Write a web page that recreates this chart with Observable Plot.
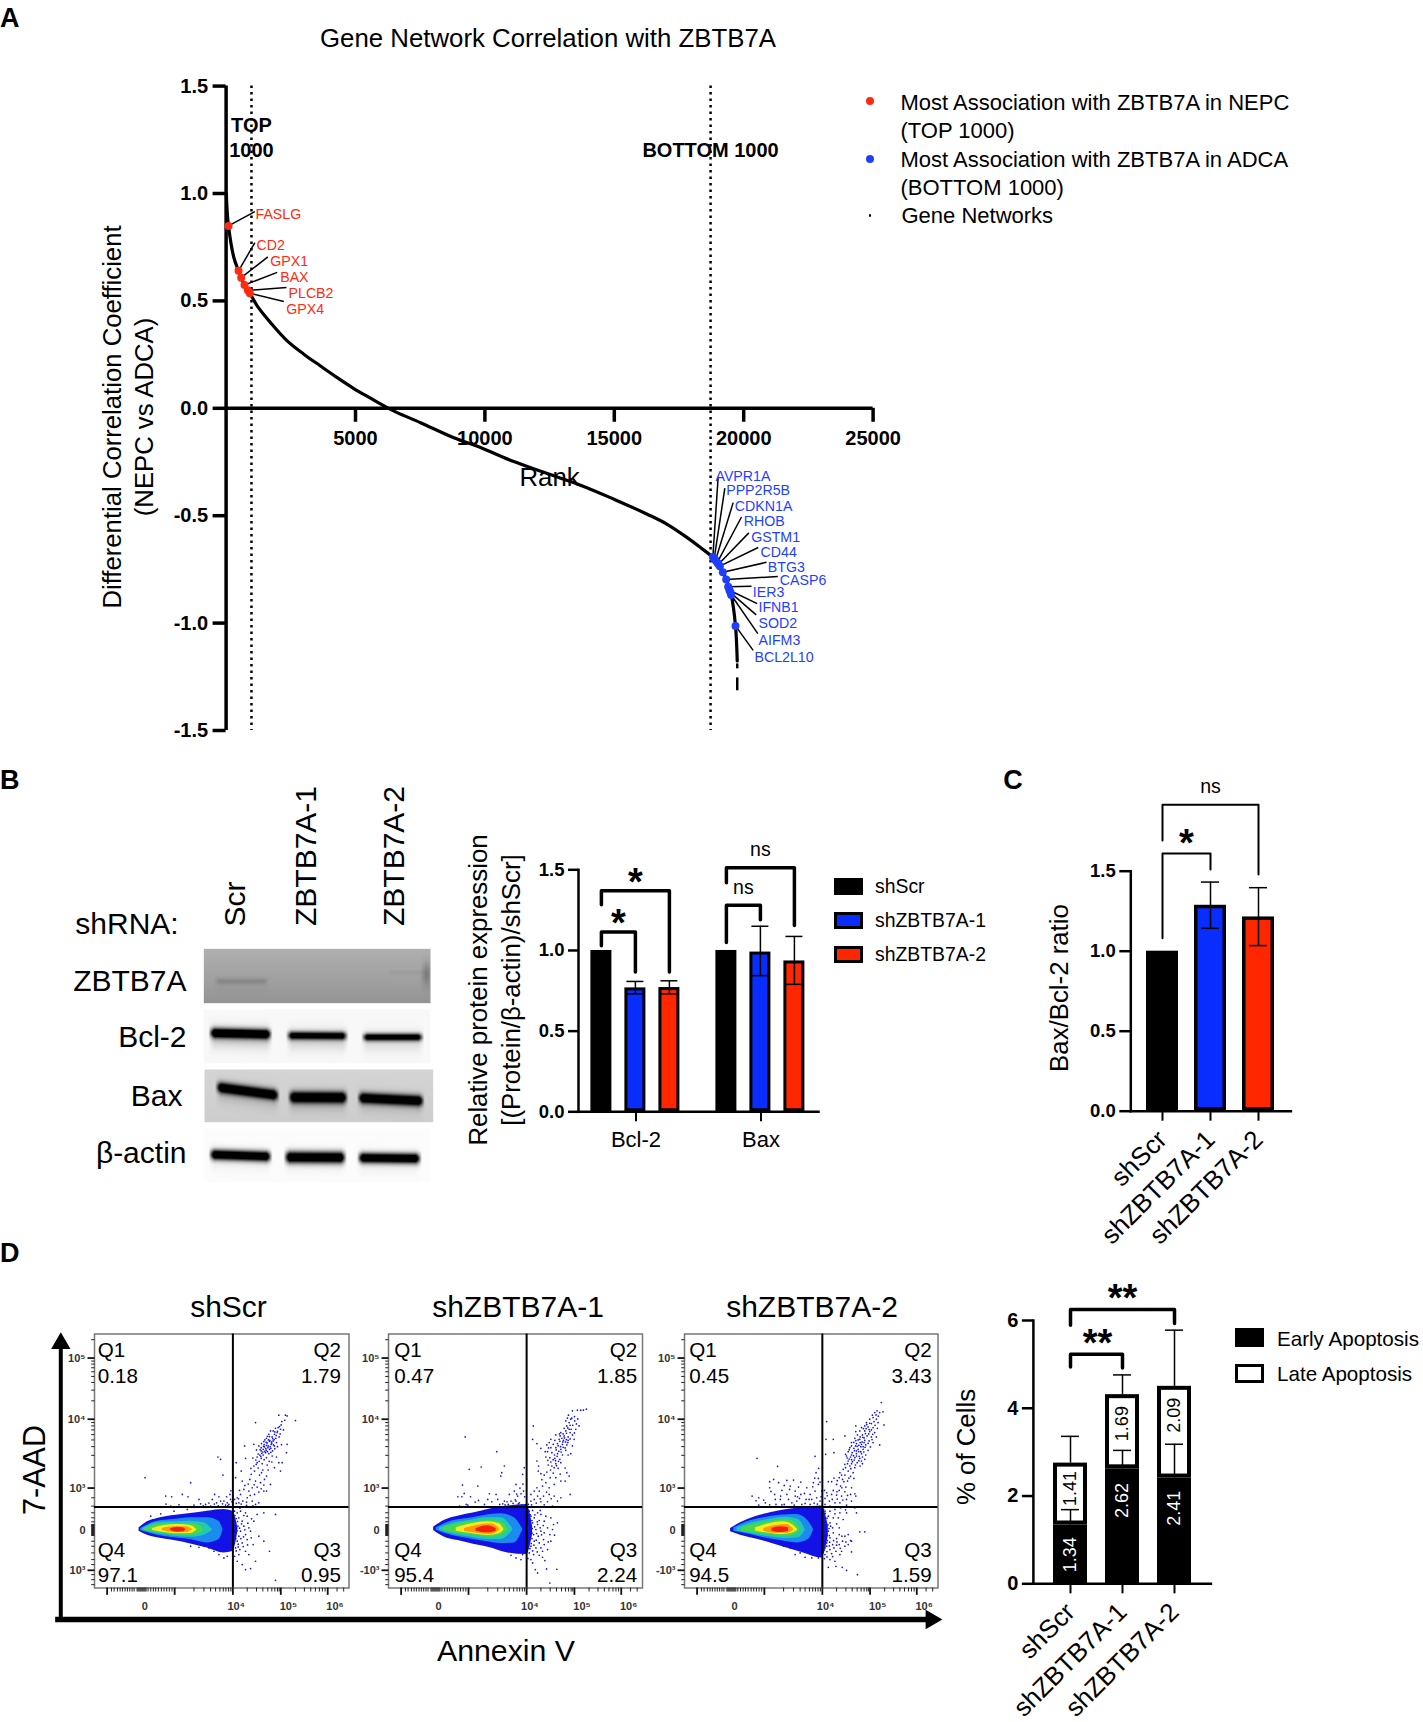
<!DOCTYPE html>
<html>
<head>
<meta charset="utf-8">
<script src="https://cdn.jsdelivr.net/npm/d3@7"></script>
<script src="https://cdn.jsdelivr.net/npm/@observablehq/plot@0.6"></script>
<style>
  html, body { margin: 0; padding: 0; background: white; }
  #page { position: relative; width: 1423px; height: 1722px; overflow: hidden; font-family: "Liberation Sans", sans-serif; color: black; }
  .note { position: absolute; white-space: nowrap; line-height: 1; }
  .swatch { position: absolute; box-sizing: border-box; }
</style>
</head>
<body>
<div id="page"></div>
<script>
// ---- panel A: rank curve ----
const curveRank = [10, 30, 93, 299, 480, 583, 711, 840, 917, 1201, 1716, 2360, 3004, 3648, 4292, 4936, 5580, 6224, 6610, 7512, 8800, 9830, 11118, 12406, 13694, 14982, 16270, 17043, 17816, 18331, 18717, 19077, 19323, 19517, 19683, 19750];
const curveValue = [1.0, 0.94, 0.849, 0.702, 0.64, 0.608, 0.574, 0.549, 0.536, 0.477, 0.399, 0.314, 0.252, 0.197, 0.143, 0.092, 0.047, 0.003, -0.02, -0.067, -0.137, -0.183, -0.248, -0.304, -0.358, -0.423, -0.493, -0.54, -0.602, -0.648, -0.685, -0.735, -0.797, -0.869, -1.013, -1.176];
const tailDashes = [[-1.19, -1.213], [-1.255, -1.315]];
const tailRank = 19750;
const rankTicks = [5000, 10000, 15000, 20000, 25000];
const corrTicks = [-1.5, -1, -0.5, 0, 0.5, 1, 1.5];
const cutoffs = [980, 18720];

const redGenes = ["FASLG", "CD2", "GPX1", "BAX", "PLCB2", "GPX4"];
const redRank = [93, 480, 583, 711, 840, 917];
const redValue = [0.849, 0.64, 0.608, 0.574, 0.549, 0.536];
const redLeadRank = [1111, 1111, 1613, 1974, 2334, 2231];
const redLeadValue = [0.916, 0.771, 0.705, 0.633, 0.562, 0.497];
const redTextRank = [1136, 1175, 1703, 2090, 2412, 2321];
const redTextValue = [0.903, 0.756, 0.683, 0.608, 0.535, 0.459];

const blueGenes = ["AVPR1A", "PPP2R5B", "CDKN1A", "RHOB", "GSTM1", "CD44", "BTG3", "CASP6", "IER3", "IFNB1", "SOD2", "AIFM3", "BCL2L10"];
const blueRank = [18808, 18860, 18912, 18975, 19026, 19077, 19193, 19323, 19400, 19450, 19490, 19517, 19683];
const blueValue = [-0.692, -0.7, -0.707, -0.718, -0.726, -0.735, -0.763, -0.797, -0.831, -0.847, -0.858, -0.869, -1.013];
const blueLeadRank = [19013, 19271, 19593, 19915, 20198, 20559, 20881, 21319, 20301, 20520, 20482, 20546, 20366];
const blueLeadValue = [-0.319, -0.372, -0.439, -0.506, -0.58, -0.648, -0.717, -0.783, -0.828, -0.909, -0.962, -1.049, -1.127];
const blueTextRank = [18910, 19323, 19657, 20005, 20289, 20649, 20933, 21396, 20353, 20572, 20572, 20572, 20417];
const blueTextValue = [-0.315, -0.381, -0.456, -0.527, -0.599, -0.67, -0.741, -0.8, -0.859, -0.928, -1.002, -1.083, -1.158];

// ---- panels B and C: western blot quantification ----
const shGroups = ["shScr", "shZBTB7A-1", "shZBTB7A-2"];
const shColors = ["black", "#0a2dff", "#ff2600"];
const proteins = ["Bcl-2", "Bax"];
const bcl2Mean = [1, 0.768, 0.77];
const bcl2Low = [null, 0.731, 0.731];
const bcl2High = [null, 0.808, 0.812];
const baxMean = [1, 0.99, 0.935];
const baxLow = [null, 0.844, 0.79];
const baxHigh = [null, 1.15, 1.087];
const ratioMean = [1, 1.287, 1.214];
const ratioLow = [null, 1.143, 1.035];
const ratioHigh = [null, 1.432, 1.397];
const exprTicks = [0, 0.5, 1, 1.5];

// from group, to group, bracket top, left foot, right foot
const bcl2Brackets = [["shScr", "shZBTB7A-1", 1.114, 1.03, 0.866], ["shScr", "shZBTB7A-2", 1.37, 1.283, 0.866]];
const baxBrackets = [["shScr", "shZBTB7A-1", 1.28, 1.05, 1.19], ["shScr", "shZBTB7A-2", 1.513, 1.42, 1.154]];
const ratioBrackets = [["shScr", "shZBTB7A-1", 1.611, 1.081, 1.511], ["shScr", "shZBTB7A-2", 1.915, 1.692, 1.48]];

// ---- panel D: apoptosis ----
const earlyPct = [1.34, 2.62, 2.41];
const latePct = [1.41, 1.69, 2.09];
const earlyCap = [1.69, 3.04, 3.18];
const lateCap = [3.36, 4.76, 5.78];
const earlyLabelAt = [0.66, 1.9, 1.72];
const lateLabelAt = [2.17, 3.65, 3.84];
const pctTicks = [0, 2, 4, 6];
const apoBrackets = [["shScr", "shZBTB7A-1", 5.23, 4.94, 4.92], ["shScr", "shZBTB7A-2", 6.25, 5.89, 5.93]];

// ---- flow plots, all in channel units of the scan ----
const xMajor = [49, 252, 427, 571, 712];
const xMinor = [62, 70, 80, 88, 95, 103, 110, 117, 124, 130, 139, 142, 145, 148, 151, 154, 157, 160, 163, 166, 172, 180, 188, 195, 203, 212, 220, 228, 236, 244, 310, 340, 360, 375, 388, 398, 406, 414, 421, 470, 498, 517, 532, 544, 553, 561, 566, 615, 642, 661, 675, 687, 696, 704, 740, 760];
const yMajor = [82, 265, 471, 717];
const yMinor = [27, 91, 100, 111, 123, 137, 155, 178, 210, 275, 285, 297, 311, 327, 347, 373, 409, 500, 525, 545, 560, 572, 580, 583, 586, 589, 592, 595, 598, 601, 604, 607, 610, 613, 630, 645, 665, 685, 700, 730, 745, 760];
const xTickText = [[162, "0"], [437, "10⁴"], [594, "10⁵"], [734, "10⁶"]];
const yTickText = [[82, "10⁵"], [265, "10⁴"], [471, "10³"], [597, "0"]];
const densityColors = ["#1212e6", "#1a8cf0", "#22c8b0", "#48d848", "#f4ec20", "#ff9a10", "#f0220c"];

// level, channel x, upper edge, lower edge
const density1 = [
  [0,145,590,600],[0,170,572,612],[0,200,562,620],[0,250,553,628],[0,300,547,638],[0,350,540,650],[0,400,535,665],[0,427,540,660],[0,442,590,600],
  [1,150,592,598],[1,200,570,612],[1,250,565,620],[1,300,560,625],[1,350,560,635],[1,385,570,625],[1,397,595,597],
  [2,155,592,598],[2,200,575,608],[2,250,572,615],[2,300,570,618],[2,340,575,612],[2,365,594,598],
  [3,160,593,597],[3,200,580,603],[3,250,577,610],[3,300,577,612],[3,330,585,605],[3,338,594,597],
  [4,185,592,598],[4,220,583,604],[4,260,580,608],[4,300,583,607],[4,318,594,597],
  [5,215,592,598],[5,250,587,604],[5,285,587,604],[5,305,594,597],
  [6,240,593,598],[6,260,588,603],[6,278,590,602],[6,285,595,597]
];
const density2 = [
  [0,147,588,598],[0,180,567,618],[0,220,555,628],[0,270,545,640],[0,320,533,650],[0,370,525,665],[0,427,520,670],[0,445,585,610],
  [1,155,590,597],[1,200,570,612],[1,250,562,622],[1,300,553,630],[1,350,548,637],[1,390,560,635],[1,415,593,597],
  [2,165,589,598],[2,210,575,610],[2,260,567,618],[2,310,560,625],[2,350,560,625],[2,385,592,598],
  [3,175,590,597],[3,220,578,606],[3,270,572,612],[3,320,568,618],[3,355,575,610],[3,370,593,597],
  [4,215,590,600],[4,260,578,607],[4,310,572,613],[4,345,578,608],[4,358,593,597],
  [5,240,592,600],[5,280,582,607],[5,320,578,610],[5,345,592,597],
  [6,275,592,600],[6,310,584,605],[6,335,592,600]
];
const density3 = [
  [0,150,592,602],[0,180,575,612],[0,220,558,622],[0,270,545,635],[0,320,535,650],[0,370,530,665],[0,425,525,680],[0,445,585,615],
  [1,160,590,600],[1,200,572,608],[1,250,560,620],[1,300,552,628],[1,350,550,635],[1,385,570,625],[1,400,594,598],
  [2,170,590,600],[2,215,575,608],[2,265,565,617],[2,315,558,622],[2,355,565,620],[2,375,594,598],
  [3,185,590,600],[3,230,578,606],[3,275,570,612],[3,320,565,615],[3,345,575,610],[3,360,594,598],
  [4,225,590,600],[4,265,578,606],[4,310,572,610],[4,340,583,605],[4,352,594,598],
  [5,250,592,600],[5,285,583,606],[5,320,580,606],[5,340,594,598],
  [6,275,592,600],[6,300,587,604],[6,325,590,600]
];

const events1 = [[585,253],[565,253],[615,269],[495,275],[590,255],[572,282],[563,290],[570,295],[555,292],[548,300],[560,305],[540,300],[552,310],[535,310],[545,318],[556,322],[566,318],[528,322],[538,328],[548,330],[558,335],[520,332],[530,336],[542,340],[552,345],[512,350],[522,348],[532,350],[518,355],[527,358],[537,355],[546,360],[512,360],[505,345],[490,340],[525,365],[535,368],[518,372],[508,372],[500,378],[512,382],[528,380],[545,375],[558,378],[575,395],[590,340],[588,365],[462,345],[465,382],[500,395],[497,400],[515,398],[530,402],[552,410],[565,395],[570,420],[490,405],[492,420],[513,425],[528,435],[522,445],[507,432],[482,430],[478,445],[495,450],[510,455],[520,462],[500,468],[485,470],[475,480],[492,490],[505,483],[520,480],[460,475],[450,490],[440,500],[470,500],[485,510],[495,520],[505,515],[457,510],[445,515],[432,505],[437,395],[452,420],[435,440],[455,450],[540,460],[528,480],
  [382,378],[390,385],[397,432],[163,440],[300,455],[275,490],[225,495],[243,497],[292,497],[325,505],[345,520],[372,490],[385,497],[400,510],[410,515],[418,490],[420,505],[415,520],[405,522],[390,510],[378,515],[360,525],[240,525],[310,522],
  [432,540],[440,545],[450,540],[465,545],[470,555],[445,560],[455,570],[435,575],[442,585],[460,585],[475,590],[450,600],[435,605],[445,615],[465,610],[480,600],[440,630],[455,635],[470,625],[488,640],[435,650],[448,655],[465,660],[475,670],[445,670],[432,675],[440,690],[455,700],[465,715],[480,712],[495,690],[505,615],[520,630],[537,660],[555,747],[500,550],[520,545],[555,550],[490,570],[482,620],
  [340,645],[355,650],[370,660],[385,670],[400,680],[410,675],[395,660],[325,648],[300,645],[210,548],[180,555],[250,540],[290,535]];
const extra1 = [[537,331],[544,337],[528,343],[533,345],[539,347],[521,341],[526,353],[541,352],[549,342],[517,363],[523,361],[531,362],[514,367],[543,333],[551,326],[557,314],[561,301],[567,287],[553,303],[547,323],[534,327],[527,334],[519,346],[509,356],[503,369],[496,387],[506,391],[511,376],[521,386],[536,391],[541,364],[553,353],[561,347],[573,341],[569,309],[579,297],[574,272],[583,268],[537,317],[531,316],[523,327],[513,338],[498,357],[487,381],[481,412],[503,411],[517,417],[533,417],[544,393],[473,459],[491,461],[512,473],[468,513],[479,493],[463,463],[447,478],[444,503],[437,517],[452,519],[468,523],[487,524],
  [401,527],[412,524],[396,518],[383,524],[371,519],[355,516],[338,524],[408,497],[421,479],[424,512],[365,505],[330,518],[265,521],[226,519],
  [433,553],[437,562],[441,571],[434,592],[439,599],[447,591],[453,578],[431,617],[436,623],[443,639],[451,622],[459,617],[431,635],[437,659],[443,647],[458,646],[471,641],[463,596],[472,576],[483,563],[460,553],[448,531]];
const events2 = [[607,235],[598,238],[590,238],[580,238],[565,240],[550,262],[560,265],[572,270],[545,270],[555,275],[585,285],[566,283],[548,285],[540,292],[555,295],[575,295],[530,305],[545,300],[558,305],[515,312],[528,315],[540,315],[552,318],[565,312],[500,325],[512,328],[525,325],[538,328],[552,328],[570,325],[495,335],[507,340],[520,338],[535,340],[548,342],[488,342],[565,345],[500,350],[515,350],[530,355],[545,358],[560,368],[490,362],[503,365],[520,368],[535,372],[552,372],[485,378],[497,380],[512,382],[527,385],[500,393],[515,398],[530,395],[492,402],[510,410],[522,412],[548,425],[555,435],[470,428],[462,420],[480,432],[498,440],[515,440],[530,450],[543,450],[485,455],[495,470],[510,460],[475,465],[465,480],[450,480],[440,490],[460,495],[478,495],[495,490],[510,495],[520,510],[505,525],[490,512],[470,512],[450,505],[440,510],[432,520],[447,285],[445,325],[458,338],[470,352],[458,390],[463,405],[558,490],[530,500],
  [242,318],[337,362],[254,415],[290,408],[352,425],[349,435],[360,405],[420,410],[415,430],[395,460],[234,462],[280,465],[220,497],[232,497],[315,488],[335,490],[245,520],[282,508],[310,505],[340,505],[360,510],[375,490],[390,480],[400,495],[410,488],[418,480],[380,510],[395,510],[405,515],[372,520],[355,518],[225,525],[250,522],
  [435,540],[445,538],[460,545],[470,550],[485,555],[500,560],[520,575],[508,580],[440,555],[450,560],[465,568],[480,570],[435,570],[445,575],[460,580],[490,590],[505,595],[480,605],[440,590],[455,595],[470,600],[435,605],[448,610],[462,615],[478,625],[492,632],[435,625],[450,630],[465,635],[480,640],[500,630],[440,645],[455,650],[470,650],[490,655],[435,665],[448,670],[465,672],[482,688],[440,685],[453,715],[460,725],[487,713],[518,714],[497,755],[475,678],
  [335,650],[350,655],[365,660],[380,672],[395,680],[410,685],[415,670],[325,645]];
const extra2 = [[541,321],[547,326],[536,333],[544,333],[533,322],[527,331],[551,335],[558,324],[522,344],[529,347],[537,349],[543,351],[516,357],[524,361],[531,363],[511,372],[519,376],[507,386],[514,389],[523,391],[503,405],[517,404],[493,351],[483,362],[491,388],[558,283],[551,291],[561,295],[547,307],[537,309],[526,309],[571,306],[577,279],[553,253],[563,262],[571,257],[581,264],[499,417],[507,426],[528,429],[488,423],[543,411],[473,446],[458,470],[487,483],[501,503],[468,503],[456,516],[442,521],[480,521],
  [393,506],[402,518],[412,522],[386,517],[368,512],[362,521],[346,520],[322,512],[300,520],[272,513],[258,497],[239,487],[416,459],[407,471],[421,497],[397,489],
  [431,537],[433,547],[438,551],[431,557],[437,563],[443,568],[432,578],[438,583],[444,592],[431,596],[437,601],[443,606],[451,587],[431,613],[436,618],[443,622],[457,607],[433,633],[441,637],[449,642],[456,627],[431,645],[437,652],[445,659],[459,662],[472,611],[468,590],[477,583],[459,572],[452,551],[468,538],[431,682],[445,695],[475,660],[497,610],[511,612]];
const events3 = [[605,215],[592,240],[600,245],[585,245],[610,243],[580,260],[570,265],[590,265],[560,275],[575,278],[595,275],[555,285],[565,288],[580,290],[545,290],[613,282],[540,300],[555,300],[570,302],[585,305],[528,302],[533,312],[548,312],[562,315],[575,318],[590,318],[525,322],[540,325],[555,328],[568,330],[580,335],[515,335],[530,338],[545,340],[558,342],[572,348],[600,342],[510,350],[522,352],[535,355],[550,355],[565,358],[505,362],[517,365],[530,368],[545,368],[558,372],[500,375],[512,378],[525,380],[540,382],[555,385],[505,390],[518,392],[532,395],[548,398],[495,400],[510,405],[525,410],[490,415],[505,420],[520,425],[480,425],[495,432],[512,436],[488,445],[503,450],[522,442],[440,272],[438,325],[460,325],[495,315],[528,285],[437,370],[462,365],
  [470,460],[482,465],[498,468],[515,470],[460,478],[478,478],[495,482],[512,490],[525,488],[445,452],[455,452],[440,485],[455,490],[470,492],[485,495],[500,505],[515,510],[435,502],[448,510],[465,515],[480,515],[435,520],[450,525],[500,522],[525,530],[528,495],
  [230,382],[292,406],[405,376],[416,412],[408,425],[280,445],[268,452],[268,470],[295,455],[320,448],[340,447],[330,465],[355,468],[345,480],[400,455],[415,460],[425,480],[215,495],[235,500],[255,515],[285,505],[300,505],[320,490],[345,495],[362,490],[380,470],[390,490],[405,480],[378,505],[395,505],[410,500],[420,510],[350,510],[335,515],[312,520],[235,522],[365,520],[390,520],
  [435,540],[450,540],[465,535],[480,545],[500,545],[530,545],[445,555],[460,560],[475,560],[490,565],[435,565],[450,575],[470,578],[440,585],[458,590],[478,590],[540,602],[555,602],[505,610],[445,600],[460,605],[478,610],[495,615],[515,630],[435,615],[450,620],[470,622],[488,630],[505,640],[440,635],[458,640],[478,640],[495,645],[435,650],[450,655],[468,660],[485,660],[515,662],[435,670],[450,685],[465,690],[480,670],[445,708],[468,705],[487,708],[533,730],[500,717],
  [345,670],[360,665],[375,678],[395,680],[415,680],[330,650],[310,645]];
const extra3 = [[547,333],[553,335],[541,335],[537,343],[543,347],[550,347],[556,349],[532,346],[527,345],[524,359],[530,360],[537,362],[543,362],[552,363],[515,372],[521,374],[530,375],[538,376],[548,378],[508,384],[515,386],[523,387],[537,389],[545,390],[503,398],[515,398],[527,402],[541,405],[497,410],[513,413],[553,321],[549,319],[557,308],[567,309],[579,310],[575,297],[568,296],[559,293],[551,293],[561,281],[570,277],[583,272],[578,253],[589,252],[596,256],[586,283],[593,292],[565,337],[577,326],[541,318],[535,327],[522,334],[528,329],[515,345],[508,356],[502,381],[497,370],[485,432],[478,440],[492,452],[507,441],[472,449],[462,441],[486,470],[471,482],[503,493],[489,507],[472,504],[457,505],[442,494],[433,478],
  [283,490],[272,481],[305,478],[312,463],[362,453],[373,487],[398,467],[387,505],[402,516],[412,519],[423,497],[375,517],[358,502],[342,522],[325,505],[305,521],[287,520],[268,521],[250,507],[227,509],[420,453],[404,441],[415,442],[328,475],[301,495],[352,497],
  [431,535],[436,547],[431,553],[441,561],[431,572],[437,577],[444,581],[432,592],[438,597],[447,592],[452,585],[433,609],[441,611],[448,613],[434,625],[442,628],[449,633],[461,628],[433,641],[440,645],[448,644],[432,657],[441,661],[455,667],[462,650],[470,642],[481,651],[471,632],[498,632],[512,628],[486,615],[465,548],[482,530],[497,536],[433,682],[441,677],[458,676]];

const quadrants1 = ["0.18", "1.79", "97.1", "0.95"];
const quadrants2 = ["0.47", "1.85", "95.4", "2.24"];
const quadrants3 = ["0.45", "3.43", "94.5", "1.59"];

// ---- blots: gray level of the membrane and its bands, in scan units ----
const blotRows = [
  { x1: 40, x2: 720, y1: 25, y2: 188, top: 176, bottom: 148,
    bands: [[75, 230, 122, 122, 9, 22, 3], [695, 722, 100, 100, 34, 40, 0], [595, 700, 95, 95, 7, 7, 0]] },
  { x1: 40, x2: 718, y1: 208, y2: 368, top: 248, bottom: 248,
    bands: [[60, 240, 277, 281, 14, 330, 55], [292, 468, 285, 286, 12, 270, 40], [518, 695, 290, 290, 11, 280, 28]] },
  { x1: 42, x2: 728, y1: 387, y2: 545, top: 212, bottom: 205,
    bands: [[80, 262, 440, 464, 15, 300, 30], [297, 468, 470, 471, 16, 300, 34], [505, 697, 472, 481, 15, 300, 26]] },
  { x1: 40, x2: 718, y1: 565, y2: 725, top: 252, bottom: 252,
    bands: [[60, 240, 642, 648, 15, 340, 14], [285, 463, 650, 651, 17, 340, 14], [505, 688, 652, 654, 15, 340, 14]] }
];

const page = document.getElementById("page");
const base = { style: { fontFamily: "Liberation Sans", color: "black", background: "transparent", overflow: "visible", maxWidth: "none" } };

function place(chart, left, top) {
  chart.style.position = "absolute";
  chart.style.left = left + "px";
  chart.style.top = top + "px";
  page.append(chart);
}

function note(text, x, y, size, opts = {}) {
  const el = document.createElement("div");
  el.className = "note";
  el.textContent = text;
  el.style.left = x + "px";
  el.style.top = y + "px";
  el.style.fontSize = size + "px";
  if (opts.bold) el.style.fontWeight = "bold";
  const shift = opts.anchor === "end" ? "-100%" : opts.anchor === "start" ? "0" : "-50%";
  el.style.transform = `translate(${shift},-50%)` + (opts.rotate ? ` rotate(${opts.rotate}deg)` : "");
  page.append(el);
}

function swatch(x, y, w, h, fill, border, round) {
  const el = document.createElement("div");
  el.className = "swatch";
  el.style.left = x + "px";
  el.style.top = y + "px";
  el.style.width = w + "px";
  el.style.height = h + "px";
  el.style.background = fill;
  if (border) el.style.border = border;
  if (round) el.style.borderRadius = "50%";
  page.append(el);
}

function bracketRows(list, extra = {}) {
  return list.flatMap(([a, b, top, footA, footB], i) => [
    { id: i, x: a, y: footA, ...extra },
    { id: i, x: a, y: top, ...extra },
    { id: i, x: b, y: top, ...extra },
    { id: i, x: b, y: footB, ...extra }
  ]);
}

// ---- A ----
const curve = curveRank.map((r, i) => ({ r, v: curveValue[i] }));
const red = redGenes.map((g, i) => ({ g, r: redRank[i], v: redValue[i], lr: redLeadRank[i], lv: redLeadValue[i], tr: redTextRank[i], tv: redTextValue[i] }));
const blue = blueGenes.map((g, i) => ({ g, r: blueRank[i], v: blueValue[i], lr: blueLeadRank[i], lv: blueLeadValue[i], tr: blueTextRank[i], tv: blueTextValue[i] }));
const genes = (rows, color) => [
  Plot.link(rows, { x1: "r", y1: "v", x2: "lr", y2: "lv", stroke: "black", strokeWidth: 1.5 }),
  Plot.dot(rows, { x: "r", y: "v", r: 4, fill: color }),
  Plot.text(rows, { x: "tr", y: "tv", text: "g", textAnchor: "start", fill: color, fontSize: 14.2 })
];

place(Plot.plot({
  ...base,
  width: 900, height: 760,
  marginLeft: 225.6, marginRight: 27.4, marginTop: 85.6, marginBottom: 30,
  x: { domain: [0, 25000], axis: null },
  y: { domain: [-1.5, 1.5], axis: null },
  marks: [
    Plot.ruleX(cutoffs, { stroke: "black", strokeWidth: 2.5, strokeDasharray: "2.5,4" }),
    Plot.ruleX([0], { stroke: "black", strokeWidth: 3.5 }),
    Plot.ruleY([0], { stroke: "black", strokeWidth: 3.5 }),
    Plot.ruleX(rankTicks, { x: d => d, y1: 0, y2: -0.065, stroke: "black", strokeWidth: 3.5 }),
    Plot.text(rankTicks, { x: d => d, y: 0, dy: 30, text: d => String(d), fontSize: 20, fontWeight: "bold" }),
    Plot.axisY({ ticks: corrTicks, tickFormat: d => d.toFixed(1), tickSize: 13, tickPadding: 5, strokeWidth: 3.5, fontSize: 20, fontWeight: "bold", label: null }),
    Plot.line(curve, { x: "r", y: "v", stroke: "black", strokeWidth: 3.2, curve: "catmull-rom" }),
    Plot.ruleX(tailDashes, { x: () => tailRank, y1: d => d[0], y2: d => d[1], stroke: "black", strokeWidth: 2.5 }),
    ...genes(red, "#ff2a10"),
    ...genes(blue, "#1f3fff"),
    Plot.text(["TOP", "1000"], { x: cutoffs[0], y: [1.315, 1.2], text: d => d, fontSize: 20, fontWeight: "bold" }),
    Plot.text(["BOTTOM 1000"], { x: cutoffs[1], y: 1.2, text: d => d, fontSize: 20, fontWeight: "bold" }),
    Plot.text(["Rank"], { x: 12500, y: -0.3225, text: d => d, fontSize: 25.8 })
  ]
}), 0, 0);

note("A", 0, 18, 27, { bold: true, anchor: "start" });
note("Gene Network Correlation with ZBTB7A", 548, 39, 25.8);
note("Differential Correlation Coefficient", 112.5, 417, 25.7, { rotate: -90 });
note("(NEPC vs ADCA)", 145, 417, 25.7, { rotate: -90 });
swatch(865.5, 97, 8, 8, "#ff2a10", null, true);
swatch(865.5, 155, 8, 8, "#1f3fff", null, true);
swatch(868.5, 214, 2.5, 2.5, "black", null, true);
note("Most Association with ZBTB7A in NEPC", 900.5, 103, 22, { anchor: "start" });
note("(TOP 1000)", 900.5, 130.5, 22, { anchor: "start" });
note("Most Association with ZBTB7A in ADCA", 900.5, 159.5, 22, { anchor: "start" });
note("(BOTTOM 1000)", 900.5, 187.5, 22, { anchor: "start" });
note("Gene Networks", 901.5, 215.5, 22, { anchor: "start" });

// ---- B blots ----
function blotLevel(row) {
  return (x, y) => {
    let v = row.top + (row.bottom - row.top) * (y - row.y1) / (row.y2 - row.y1);
    for (const [b1, b2, yA, yB, thick, dark, smear] of row.bands) {
      const edge = Math.min(1, Math.max(0, (x - b1 + 6) / 18)) * Math.min(1, Math.max(0, (b2 - x + 6) / 18));
      const yc = yA + (yB - yA) * (x - b1) / (b2 - b1);
      const d = (y - yc) / thick;
      const below = (y - yc - 12) / 30;
      v -= edge * (dark * Math.exp(-d * d) + smear * Math.exp(-below * below));
    }
    return Math.max(0, Math.min(255, v));
  };
}

place(Plot.plot({
  ...base,
  width: 250, height: 250, margin: 0,
  x: { domain: [0, 750], range: [0, 250], axis: null },
  y: { domain: [0, 750], range: [0, 250], axis: null },
  color: { type: "linear", domain: [0, 255], range: ["black", "white"] },
  marks: blotRows.map(row => Plot.raster({ fill: blotLevel(row), x1: row.x1, x2: row.x2, y1: row.y1, y2: row.y2, pixelSize: 1 }))
}), 190, 940);

note("B", 0, 780, 27, { bold: true, anchor: "start" });
note("shRNA:", 127, 924, 30);
note("ZBTB7A", 186.5, 980.5, 30, { anchor: "end" });
note("Bcl-2", 186.5, 1037, 30, { anchor: "end" });
note("Bax", 182.5, 1096, 30, { anchor: "end" });
note("β-actin", 186.5, 1153, 30, { anchor: "end" });
note("Scr", 235, 904, 30, { rotate: -90 });
note("ZBTB7A-1", 306, 856, 30, { rotate: -90 });
note("ZBTB7A-2", 393.5, 856, 30, { rotate: -90 });

// ---- B bars ----
const proteinBars = [
  ...shGroups.map((g, i) => ({ p: "Bcl-2", g, v: bcl2Mean[i], lo: bcl2Low[i], hi: bcl2High[i] })),
  ...shGroups.map((g, i) => ({ p: "Bax", g, v: baxMean[i], lo: baxLow[i], hi: baxHigh[i] }))
];
const withError = proteinBars.filter(d => d.hi != null);
const proteinBrackets = [...bracketRows(bcl2Brackets, { p: "Bcl-2" }).map(d => ({ ...d, id: "b" + d.id })), ...bracketRows(baxBrackets, { p: "Bax" }).map(d => ({ ...d, id: "x" + d.id }))];

place(Plot.plot({
  ...base,
  width: 320, height: 300,
  marginLeft: 57.6, marginRight: 22.2, marginTop: 19.3, marginBottom: 38.7,
  fx: { domain: proteins, padding: 0.0825, axis: null, label: null },
  x: { domain: shGroups, padding: 0.37, axis: null, label: null },
  y: { domain: [0, 1.5], axis: null },
  color: { domain: shGroups, range: shColors },
  marks: [
    Plot.barY(proteinBars, { fx: "p", x: "g", y: "v", fill: "g", stroke: "black", strokeWidth: 3, inset: 1.5 }),
    Plot.ruleX(withError, { fx: "p", x: "g", y1: "lo", y2: "hi", stroke: "black", strokeWidth: 1.5 }),
    Plot.tickY(withError, { fx: "p", x: "g", y: "lo", stroke: "black", strokeWidth: 1.5, insetLeft: 2, insetRight: 2 }),
    Plot.tickY(withError, { fx: "p", x: "g", y: "hi", stroke: "black", strokeWidth: 1.5, insetLeft: 2, insetRight: 2 }),
    Plot.line(proteinBrackets, { fx: "p", x: "x", y: "y", z: "id", stroke: "black", strokeWidth: 3.5 }),
    Plot.text([["Bcl-2", 1.213]], { fx: d => d[0], x: () => "shScr", y: d => d[1], text: () => "*", dx: 17, dy: 8, fontSize: 38, fontWeight: "bold" }),
    Plot.text([["Bcl-2", 1.471]], { fx: d => d[0], x: () => "shZBTB7A-1", y: d => d[1], text: () => "*", dy: 8, fontSize: 38, fontWeight: "bold" }),
    Plot.text([["Bax", 1.386]], { fx: d => d[0], x: () => "shScr", y: d => d[1], text: () => "ns", dx: 17, fontSize: 19.5 }),
    Plot.text([["Bax", 1.627]], { fx: d => d[0], x: () => "shZBTB7A-1", y: d => d[1], text: () => "ns", fontSize: 19.5 }),
    Plot.frame({ anchor: "bottom", facet: "super", stroke: "black", strokeWidth: 2.5 }),
    Plot.frame({ anchor: "left", facet: "super", stroke: "black", strokeWidth: 2.5 }),
    Plot.axisY({ ticks: exprTicks, tickFormat: d => d.toFixed(1), tickSize: 10, tickPadding: 4, strokeWidth: 2.5, fontSize: 18.5, fontWeight: "bold", label: null }),
    Plot.axisFx({ anchor: "bottom", tickSize: 10, tickPadding: 10, strokeWidth: 2, fontSize: 22, label: null })
  ]
}), 520, 850);

note("Relative protein expression", 478.5, 990, 25.8, { rotate: -90 });
note("[(Protein/β-actin)/shScr]", 511.5, 990, 25.8, { rotate: -90 });
swatch(834, 877.5, 29, 17, "black", "3px solid black");
swatch(834, 911.5, 29, 17, "#0a2dff", "3px solid black");
swatch(834, 945.5, 29, 17, "#ff2600", "3px solid black");
note("shScr", 875, 886.5, 19.4, { anchor: "start" });
note("shZBTB7A-1", 875, 920.5, 19.4, { anchor: "start" });
note("shZBTB7A-2", 875, 954.5, 19.4, { anchor: "start" });

// ---- C ----
const ratioBars = shGroups.map((g, i) => ({ g, v: ratioMean[i], lo: ratioLow[i], hi: ratioHigh[i] }));
const ratioErr = ratioBars.filter(d => d.hi != null);

place(Plot.plot({
  ...base,
  width: 230, height: 520,
  marginLeft: 50.3, marginRight: 19.6, marginTop: 110.7, marginBottom: 169.3,
  x: { domain: shGroups, padding: 0.33, axis: null },
  y: { domain: [0, 1.5], axis: null },
  color: { domain: shGroups, range: shColors },
  marks: [
    Plot.barY(ratioBars, { x: "g", y: "v", fill: "g", stroke: "black", strokeWidth: 3.5, inset: 1.75 }),
    Plot.ruleX(ratioErr, { x: "g", y1: "lo", y2: "hi", stroke: "black", strokeWidth: 1.5 }),
    Plot.tickY(ratioErr, { x: "g", y: "lo", stroke: "black", strokeWidth: 1.5, insetLeft: 7, insetRight: 7 }),
    Plot.tickY(ratioErr, { x: "g", y: "hi", stroke: "black", strokeWidth: 1.5, insetLeft: 7, insetRight: 7 }),
    Plot.line(bracketRows(ratioBrackets), { x: "x", y: "y", z: "id", stroke: "black", strokeWidth: 2 }),
    Plot.text([1.717], { x: () => "shScr", y: d => d, text: () => "*", dx: 24, dy: 7, fontSize: 38, fontWeight: "bold" }),
    Plot.text([2.025], { x: () => "shZBTB7A-1", y: d => d, text: () => "ns", fontSize: 19.5 }),
    Plot.frame({ anchor: "bottom", stroke: "black", strokeWidth: 2.5 }),
    Plot.frame({ anchor: "left", stroke: "black", strokeWidth: 2.5 }),
    Plot.axisY({ ticks: exprTicks, tickFormat: d => d.toFixed(1), tickSize: 11, tickPadding: 4, strokeWidth: 2.5, fontSize: 18.5, fontWeight: "bold", label: null }),
    Plot.axisX({ tickSize: 10, tickPadding: 14, tickRotate: -45, strokeWidth: 2, fontSize: 25.8, label: null })
  ]
}), 1080, 760);

note("C", 1013, 780, 27, { bold: true });
note("Bax/Bcl-2 ratio", 1059.5, 988, 25.8, { rotate: -90 });

// ---- D flow ----
function flowPanel(left, width, density, events, quadrants, q, qRight, tickText) {
  const qLeft = [[60, "Q1"], [137, quadrants[0]], [657, "Q4"], [733, quadrants[2]]];
  const qEnd = [[60, "Q2"], [137, quadrants[1]], [657, "Q3"], [733, quadrants[3]]];
  place(Plot.plot({
    ...base,
    width: width + 55, height: 290,
    marginLeft: 40, marginRight: 15, marginTop: 3.5, marginBottom: 32.5,
    x: { domain: [11, 776], axis: null },
    y: { domain: [770, 10], axis: null },
    color: { type: "ordinal", domain: [0, 1, 2, 3, 4, 5, 6], range: densityColors },
    marks: [
      Plot.area(density, { x1: d => d[1], y1: d => d[2], y2: d => d[3], z: d => d[0], fill: d => d[0], curve: "monotone-x" }),
      Plot.dot(events, { x: d => d[0], y: d => d[1], r: 0.85, fill: () => 0 }),
      Plot.frame({ stroke: "#777", strokeWidth: 1.5 }),
      Plot.ruleX([427], { stroke: "black", strokeWidth: 2 }),
      Plot.ruleY([528], { stroke: "black", strokeWidth: 2 }),
      Plot.ruleX(xMinor, { x: d => d, y1: 770, y2: 782, stroke: "#222", strokeWidth: 1 }),
      Plot.ruleX(xMajor, { x: d => d, y1: 770, y2: 792, stroke: "#111", strokeWidth: 1.8 }),
      Plot.link(yMinor, { x1: 11, x2: 1, y1: d => d, y2: d => d, stroke: "#222", strokeWidth: 1 }),
      Plot.link(yMajor, { x1: 11, x2: -10, y1: d => d, y2: d => d, stroke: "#111", strokeWidth: 1.8 }),
      Plot.text(xTickText, { x: d => d[0], y: () => 770, dy: 18, text: d => d[1], fontSize: 11, fontWeight: "bold", fill: "#333" }),
      Plot.text(tickText, { x: () => 11, y: d => d[0], dx: -9, textAnchor: "end", text: d => d[1], fontSize: 11, fontWeight: "bold", fill: "#333" }),
      Plot.text(qLeft, { x: () => q, y: d => d[0], text: d => d[1], textAnchor: "start", fontSize: 20.6 }),
      Plot.text(qEnd, { x: () => qRight, y: d => d[0], text: d => d[1], textAnchor: "end", fontSize: 20.6 })
    ]
  }), left - 40, 1330);
}

flowPanel(93.75, 254.5, density1, [...events1, ...extra1], quadrants1, 21, 752, [...yTickText, [717, "10³"]]);
flowPanel(387.5, 254, density2, [...events2, ...extra2], quadrants2, 28, 760, [...yTickText, [717, "-10³"]]);
flowPanel(684, 253.5, density3, [...events3, ...extra3], quadrants3, 25, 757, [...yTickText, [717, "-10³"]]);

// big axis arrows for the flow row
const arrowStems = [[60.3, 1619, 60.3, 1345, 4], [57.5, 1619, 928, 1619, 5.7]];
const arrowHeads = [[60.3, 1343, 0], [930.7, 1619, 90]];
place(Plot.plot({
  ...base,
  width: 960, height: 340, margin: 0,
  x: { domain: [0, 960], range: [0, 960], axis: null },
  y: { domain: [1300, 1640], range: [0, 340], axis: null },
  marks: [
    Plot.link(arrowStems, { x1: d => d[0], y1: d => d[1], x2: d => d[2], y2: d => d[3], stroke: "black", strokeWidth: d => d[4], strokeLinecap: "square" }),
    Plot.dot(arrowHeads, { x: d => d[0], y: d => d[1], rotate: d => d[2], symbol: "triangle", r: 7.2, fill: "black" })
  ]
}), 0, 1300);

note("D", 0, 1253, 27, { bold: true, anchor: "start" });
note("shScr", 228.5, 1306.5, 30);
note("shZBTB7A-1", 518, 1306.5, 30);
note("shZBTB7A-2", 812, 1306.5, 30);
note("7-AAD", 33.5, 1470, 30.5, { rotate: -90 });
note("Annexin V", 506, 1650.5, 30.3);

// ---- D stacked bars ----
const stages = ["Early Apoptosis", "Late Apoptosis"];
const apoBars = [
  ...shGroups.map((g, i) => ({ g, stage: stages[0], v: earlyPct[i] })),
  ...shGroups.map((g, i) => ({ g, stage: stages[1], v: latePct[i] }))
];
const apoErr = shGroups.map((g, i) => ({ g, early: earlyPct[i], earlyCap: earlyCap[i], top: earlyPct[i] + latePct[i], lateCap: lateCap[i] }));
const apoLabels = [
  ...shGroups.map((g, i) => ({ g, t: earlyPct[i].toFixed(2), y: earlyLabelAt[i], c: "white" })),
  ...shGroups.map((g, i) => ({ g, t: latePct[i].toFixed(2), y: lateLabelAt[i], c: "black" }))
];

place(Plot.plot({
  ...base,
  width: 240, height: 440,
  marginLeft: 52.9, marginRight: 9.6, marginTop: 40, marginBottom: 136.7,
  x: { domain: shGroups, padding: 0.35, axis: null },
  y: { domain: [0, 6], axis: null },
  color: { domain: stages, range: ["black", "white"] },
  marks: [
    Plot.barY(apoBars, { x: "g", y: "v", z: "stage", fill: "stage", stroke: "black", strokeWidth: 4, inset: 2 }),
    Plot.ruleX(apoErr, { x: "g", y1: "early", y2: "earlyCap", stroke: "black", strokeWidth: 1.5 }),
    Plot.tickY(apoErr, { x: "g", y: "earlyCap", stroke: "black", strokeWidth: 1.5, insetLeft: 8, insetRight: 8 }),
    Plot.ruleX(apoErr, { x: "g", y1: "top", y2: "lateCap", stroke: "black", strokeWidth: 1.5 }),
    Plot.tickY(apoErr, { x: "g", y: "lateCap", stroke: "black", strokeWidth: 1.5, insetLeft: 8, insetRight: 8 }),
    Plot.text(apoLabels, { x: "g", y: "y", text: "t", fill: "c", rotate: -90, fontSize: 18 }),
    Plot.line(bracketRows(apoBrackets), { x: "x", y: "y", z: "id", stroke: "black", strokeWidth: 3.5 }),
    Plot.text([5.61], { x: () => "shScr", y: d => d, text: () => "**", dx: 27, dy: 6, fontSize: 38, fontWeight: "bold" }),
    Plot.text([6.63], { x: () => "shZBTB7A-1", y: d => d, text: () => "**", dy: 6, fontSize: 38, fontWeight: "bold" }),
    Plot.frame({ anchor: "bottom", stroke: "black", strokeWidth: 2.5 }),
    Plot.frame({ anchor: "left", stroke: "black", strokeWidth: 2.5 }),
    Plot.axisY({ ticks: pctTicks, tickFormat: d => String(d), tickSize: 11, tickPadding: 4, strokeWidth: 2.5, fontSize: 20, fontWeight: "bold", label: null }),
    Plot.axisX({ tickSize: 10, tickPadding: 14, tickRotate: -45, strokeWidth: 2, fontSize: 25.8, label: null })
  ]
}), 980, 1280);

note("% of Cells", 967, 1447, 25.8, { rotate: -90 });
swatch(1235, 1328, 28.5, 18.5, "black", "3px solid black");
swatch(1235, 1364, 28.5, 18.5, "white", "3px solid black");
note("Early Apoptosis", 1277, 1338.5, 20.6, { anchor: "start" });
note("Late Apoptosis", 1277, 1373.5, 20.6, { anchor: "start" });
</script>
</body>
</html>
